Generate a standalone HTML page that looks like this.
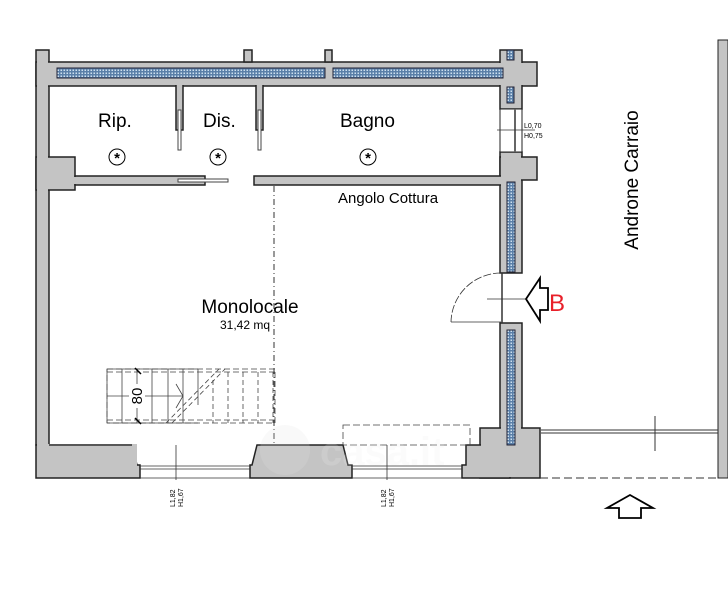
<!DOCTYPE html>
<html><head><meta charset="utf-8"><style>
html,body{margin:0;padding:0;background:#fff;}
svg{display:block;font-family:"Liberation Sans",Arial,sans-serif;}
</style></head><body>
<svg width="728" height="600" viewBox="0 0 728 600" xmlns="http://www.w3.org/2000/svg">
<defs>
<pattern id="ins" width="3" height="3" patternUnits="userSpaceOnUse">
<rect width="3" height="3" fill="#5a7fa8"/><rect x="0.5" y="0.5" width="1.5" height="1.5" fill="#cfe0ef"/>
</pattern>
</defs>
<g fill="#c4c4c4" stroke="#222" stroke-width="1.5">
<rect x="36" y="50" width="13" height="395"/>
<rect x="36" y="157" width="39" height="33"/>
<rect x="36" y="62" width="501" height="24"/>
<rect x="244" y="50" width="8" height="12"/>
<rect x="325" y="50" width="7" height="12"/>
<rect x="500" y="50" width="22" height="59"/>
<rect x="500" y="152" width="22" height="121"/>
<rect x="500" y="157" width="37" height="23"/>
<rect x="500" y="323" width="22" height="122"/>
<rect x="480" y="428" width="60" height="50"/>
<rect x="75" y="176" width="130" height="9"/>
<rect x="254" y="176" width="249" height="9"/>
<rect x="176" y="80" width="7" height="50"/>
<rect x="256" y="80" width="7" height="50"/>
<polygon points="36,445 132,445 137,465 140,465 140,478 36,478"/>
<polygon points="257,445 343,445 348,465 352,465 352,478 250,478 250,465 252,465"/>
<polygon points="466,445 510,445 510,478 462,478 462,465 466,465"/>
</g>
<g fill="#c4c4c4">
<rect x="37" y="63" width="499" height="22"/>
<rect x="177" y="80" width="5" height="8"/>
<rect x="257" y="80" width="5" height="8"/>
<rect x="501" y="51" width="20" height="57"/>
<rect x="501" y="153" width="20" height="119"/>
<rect x="501" y="158" width="35" height="21"/>
<rect x="501" y="177" width="1" height="9"/>
<rect x="501" y="324" width="20" height="120"/>
<rect x="481" y="429" width="58" height="48"/>
<rect x="37" y="158" width="37" height="31"/>
<rect x="74" y="177" width="3" height="7"/>
<rect x="37" y="51" width="11" height="393"/>
<rect x="37" y="444" width="100" height="33"/>
</g>
<g fill="url(#ins)" stroke="#223" stroke-width="1">
<rect x="57" y="68" width="268" height="10"/>
<rect x="333" y="68" width="170" height="10"/>
<rect x="507" y="50" width="7" height="10"/>
<rect x="507" y="87" width="7" height="16"/>
<rect x="507" y="182" width="8" height="90"/>
<rect x="507" y="330" width="8" height="115"/>
</g>
<rect x="500" y="109" width="22" height="43" fill="#fff" stroke="#222" stroke-width="1"/>
<line x1="515" y1="109" x2="515" y2="152" stroke="#666" stroke-width="2"/>
<line x1="497" y1="130" x2="535" y2="130" stroke="#333" stroke-width="0.7"/>
<text x="524" y="128" font-size="7">L0,70</text>
<text x="524" y="138" font-size="7">H0,75</text>
<g stroke="#444" stroke-width="1" fill="#fff">
<rect x="178" y="110" width="3" height="40"/>
<rect x="258" y="110" width="3" height="40"/>
<rect x="178" y="179" width="50" height="3"/>
</g>
<path d="M501,273 A50,50 0 0 0 451,322" fill="none" stroke="#333" stroke-width="0.8" stroke-dasharray="8,2"/>
<line x1="451" y1="322" x2="501" y2="322" stroke="#333" stroke-width="0.8"/>
<line x1="502" y1="273" x2="502" y2="323" stroke="#333" stroke-width="1.5"/>
<line x1="487" y1="299" x2="538" y2="299" stroke="#333" stroke-width="0.8"/>
<polygon points="526,299 540,278 540,288 548,288 548,310 540,310 540,321" fill="#fff" stroke="#000" stroke-width="1.8"/>
<text x="549" y="311" font-size="24" fill="#e8202a">B</text>
<text transform="translate(638,180) rotate(-90)" font-size="19" text-anchor="middle">Androne Carraio</text>
<rect x="718" y="40" width="10" height="438" fill="#c4c4c4" stroke="#222" stroke-width="1"/>
<line x1="541" y1="430" x2="718" y2="430" stroke="#333" stroke-width="1"/>
<line x1="541" y1="433" x2="718" y2="433" stroke="#333" stroke-width="1"/>
<line x1="655" y1="416" x2="655" y2="451" stroke="#333" stroke-width="1"/>
<line x1="540" y1="478" x2="718" y2="478" stroke="#333" stroke-width="1" stroke-dasharray="8,4"/>
<polygon points="630,495 653,508 641,508 641,518 619,518 619,508 607,508" fill="#fff" stroke="#000" stroke-width="1.8"/>
<g stroke="#333" stroke-width="0.8" fill="none">
<line x1="49" y1="445" x2="132" y2="445" stroke-width="1.5"/>
<line x1="140" y1="466" x2="250" y2="466"/><line x1="140" y1="469" x2="250" y2="469"/>
<line x1="352" y1="466" x2="462" y2="466"/><line x1="352" y1="469" x2="462" y2="469"/>
<line x1="140" y1="478" x2="250" y2="478"/><line x1="352" y1="478" x2="462" y2="478"/>
<line x1="176" y1="445" x2="176" y2="480"/><line x1="387" y1="445" x2="387" y2="480"/>
<rect x="343" y="425" width="127" height="20" stroke-dasharray="7,3" stroke="#444"/>
</g>
<text transform="translate(175,507) rotate(-90)" font-size="7">L1,82</text>
<text transform="translate(183,507) rotate(-90)" font-size="7">H1,67</text>
<text transform="translate(386,507) rotate(-90)" font-size="7">L1,82</text>
<text transform="translate(394,507) rotate(-90)" font-size="7">H1,67</text>
<line x1="274" y1="186" x2="274" y2="445" stroke="#333" stroke-width="1" stroke-dasharray="6,3,1,3"/>
<g stroke="#444" stroke-width="0.8" fill="none">
<rect x="107" y="369" width="168" height="54" stroke-dasharray="6,3"/>
<line x1="107" y1="369" x2="198" y2="369"/>
<line x1="107" y1="423" x2="198" y2="423"/>
<line x1="107" y1="372" x2="275" y2="372" stroke-dasharray="6,3"/>
<line x1="107" y1="420" x2="275" y2="420" stroke-dasharray="6,3"/>
<line x1="107" y1="369" x2="107" y2="423"/>
<line x1="122" y1="369" x2="122" y2="423"/><line x1="137" y1="369" x2="137" y2="423"/>
<line x1="152" y1="369" x2="152" y2="423"/><line x1="168" y1="369" x2="168" y2="423"/>
<line x1="183" y1="369" x2="183" y2="423"/><line x1="198" y1="369" x2="198" y2="405"/>
<g stroke-dasharray="5,3">
<line x1="213" y1="380" x2="213" y2="423"/><line x1="228" y1="372" x2="228" y2="423"/>
<line x1="243" y1="372" x2="243" y2="423"/><line x1="258" y1="372" x2="258" y2="423"/>
<line x1="273" y1="372" x2="273" y2="423"/>
<line x1="166" y1="423" x2="219" y2="369"/><line x1="172" y1="423" x2="225" y2="369"/>
</g>
<line x1="107" y1="396" x2="183" y2="396"/>
<polyline points="176,384 183,396 176,408"/>
<line x1="135" y1="368" x2="141" y2="374" stroke="#000" stroke-width="1.5"/>
<line x1="135" y1="418" x2="141" y2="424" stroke="#000" stroke-width="1.5"/>
</g>
<rect x="129" y="384" width="16" height="24" fill="#fff"/>
<text transform="translate(137,396) rotate(-90)" font-size="15" text-anchor="middle" dy="5">80</text>
<text x="98" y="127" font-size="19">Rip.</text>
<text x="203" y="127" font-size="19">Dis.</text>
<text x="340" y="127" font-size="19">Bagno</text>
<g fill="#fff" stroke="#000" stroke-width="1">
<circle cx="117" cy="157" r="8"/><circle cx="218" cy="157" r="8"/><circle cx="368" cy="157" r="8"/>
</g>
<g font-size="15" text-anchor="middle" font-weight="bold">
<text x="117" y="163">*</text><text x="218" y="163">*</text><text x="368" y="163">*</text>
</g>
<text x="338" y="203" font-size="15">Angolo Cottura</text>
<text x="250" y="313" font-size="19" text-anchor="middle">Monolocale</text>
<text x="245" y="329" font-size="12" text-anchor="middle">31,42 mq</text>
<g opacity="0.2">
<circle cx="285" cy="450" r="25" fill="#e6e6e6"/>
<text x="320" y="465" font-size="40" fill="#eee" font-weight="bold">casa.it</text>
</g>
</svg>
</body></html>
